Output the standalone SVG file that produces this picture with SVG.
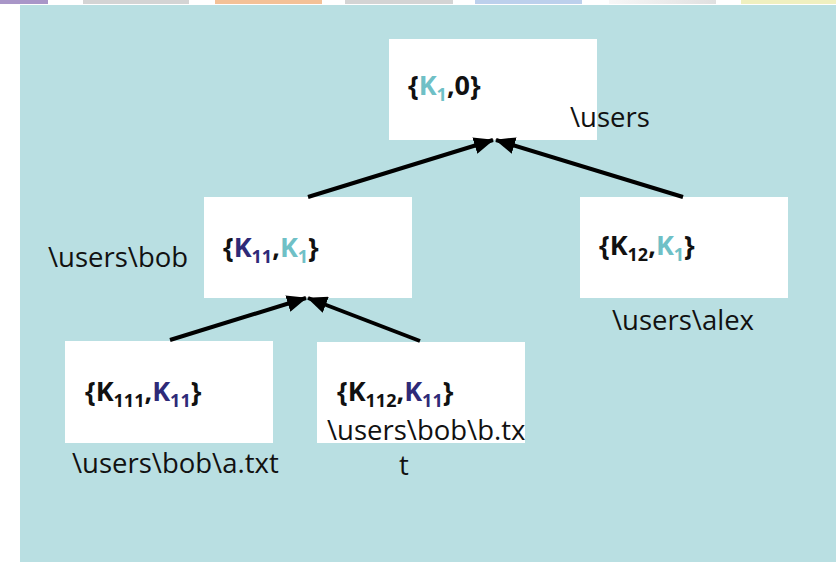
<svg xmlns="http://www.w3.org/2000/svg" width="836" height="562" viewBox="0 0 836 562">
<defs>
<linearGradient id="gbar" x1="0" x2="1" y1="0" y2="0"><stop offset="0" stop-color="#f7f7f7"/><stop offset="1" stop-color="#e0e0e0"/></linearGradient>
<marker id="ah" viewBox="0 0 20 17" refX="19" refY="8.5" markerWidth="20" markerHeight="17" orient="auto" markerUnits="userSpaceOnUse"><path d="M0,0 L20,8.5 L0,17 z" fill="#000"/></marker>
<style>
.node{fill:#fff}
.key{font-family:"Open Sans","Noto Sans",sans-serif;font-weight:bold;font-size:27px;fill:#111}
.lbl{font-family:"Open Sans","Noto Sans",sans-serif;font-size:27.5px;fill:#111}
.c1{fill:#6fc0c6}
.c2{fill:#2e2a78}
.conn line{stroke:#000;stroke-width:4;marker-end:url(#ah)}
</style>
</defs>
<rect x="0" y="0" width="836" height="562" fill="#fff"/>
<g id="topbars">
<rect x="0" y="0" width="48" height="4" fill="#a996c8"/>
<rect x="83" y="0" width="106" height="4" fill="#d4d4d4"/>
<rect x="215" y="0" width="107" height="4" fill="#f4c197"/>
<rect x="345" y="0" width="108" height="4" fill="#d4d4d4"/>
<rect x="475" y="0" width="107" height="4" fill="#bcd0ec"/>
<rect x="609" y="0" width="107" height="4" fill="url(#gbar)"/>
<rect x="741" y="0" width="95" height="4" fill="#f0f0c0"/>
</g>
<rect x="20" y="5" width="816" height="557" fill="#b9dfe2"/>
<g id="n-root">
<rect class="node" x="389" y="39" width="208" height="101"/>
<text class="key" x="408" y="95">{<tspan class="c1">K</tspan><tspan class="c1" font-size="18" dy="6">1</tspan><tspan dy="-6">,0}</tspan></text>
<text class="lbl" x="570" y="127">\users</text>
</g>
<g id="n-bob">
<rect class="node" x="204" y="197" width="208" height="101"/>
<text class="key" x="223" y="257">{<tspan class="c2">K</tspan><tspan class="c2" font-size="18" dy="6">11</tspan><tspan dy="-6">,</tspan><tspan class="c1">K</tspan><tspan class="c1" font-size="18" dy="6">1</tspan><tspan dy="-6">}</tspan></text>
<text class="lbl" x="48" y="267">\users\bob</text>
</g>
<g id="n-alex">
<rect class="node" x="580" y="197" width="208" height="101"/>
<text class="key" x="599" y="255">{K<tspan font-size="18" dy="6">12</tspan><tspan dy="-6">,</tspan><tspan class="c1">K</tspan><tspan class="c1" font-size="18" dy="6">1</tspan><tspan dy="-6">}</tspan></text>
<text class="lbl" x="612" y="330">\users\alex</text>
</g>
<g id="n-a">
<rect class="node" x="65" y="341" width="208" height="102"/>
<text class="key" x="85" y="401">{K<tspan font-size="18" dy="6">111</tspan><tspan dy="-6">,</tspan><tspan class="c2">K</tspan><tspan class="c2" font-size="18" dy="6">11</tspan><tspan dy="-6">}</tspan></text>
<text class="lbl" x="72" y="473">\users\bob\a.txt</text>
</g>
<g id="n-b">
<rect class="node" x="317" y="342" width="208" height="101"/>
<text class="key" x="337" y="401">{K<tspan font-size="18" dy="6">112</tspan><tspan dy="-6">,</tspan><tspan class="c2">K</tspan><tspan class="c2" font-size="18" dy="6">11</tspan><tspan dy="-6">}</tspan></text>
<text class="lbl" x="327" y="440">\users\bob\b.tx</text>
<text class="lbl" x="399" y="475">t</text>
</g>
<g id="connectors" class="conn">
<line x1="308" y1="197" x2="493" y2="140"/>
<line x1="683" y1="197" x2="496" y2="140"/>
<line x1="170" y1="340" x2="306" y2="298"/>
<line x1="420" y1="341" x2="308" y2="298"/>
</g>
</svg>
